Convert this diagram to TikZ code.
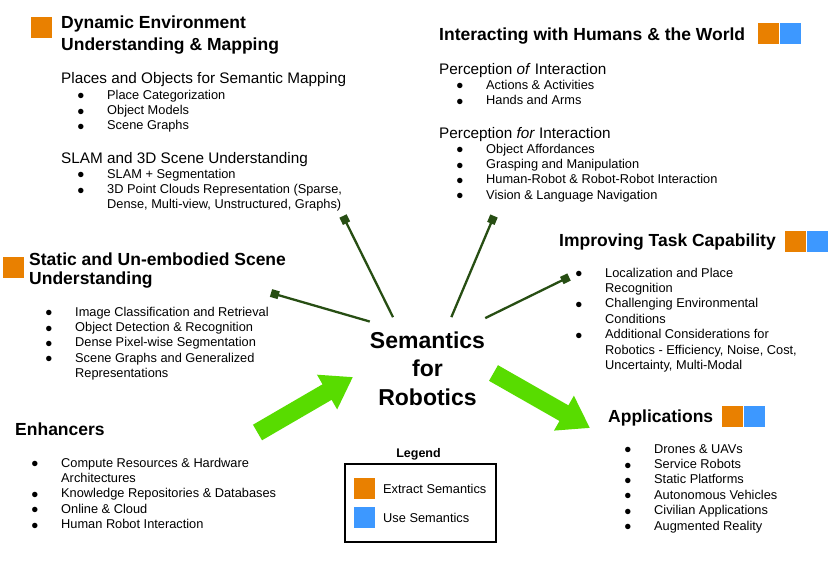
\documentclass[tikz,border=0pt]{standalone}
\usepackage{fontspec}
\setmainfont{Liberation Sans}
\usepackage{tikz}
\usetikzlibrary{arrows.meta}
\definecolor{extractcolor}{RGB}{233,128,0}
\definecolor{usecolor}{RGB}{61,152,255}
\definecolor{arrowgreen}{RGB}{88,220,0}
\definecolor{stubgreen}{RGB}{39,78,19}
\newcommand{\bul}{\makebox[30pt][l]{\raisebox{-0.6pt}{\fontsize{12.5}{10}\selectfont ●}}}
\newcommand{\cnt}{\hspace*{30pt}}

\tikzset{
  title/.style={font=\bfseries\fontsize{17.5}{22}\selectfont, anchor=base west, inner sep=0pt, align=left},
  subhead/.style={font=\fontsize{15.3}{18}\selectfont, anchor=base west, inner sep=0pt},
  items/.style={font=\fontsize{12.8}{15.4}\selectfont, anchor=base west, inner sep=0pt, align=left},
  swatch/.style={minimum size=21pt, inner sep=0pt, anchor=north west},
  extractsq/.style={swatch, fill=extractcolor},
  usesq/.style={swatch, fill=usecolor},
  stub/.style={draw=stubgreen, line width=2.3pt, -{Square[length=8pt,width=8pt]}},
  bigarrow/.style={draw=arrowgreen, line width=18pt, -{Triangle[length=30pt,width=38pt]}},
}

\begin{document}
\begin{tikzpicture}[x=1pt, y=-1pt]
    \useasboundingbox (0,0) rectangle (830,565);

    % centre (multi-line nodes sit on the baseline of their last line)
    \node[font=\bfseries\fontsize{23}{28.5}\selectfont, align=center, anchor=base, inner xsep=0pt, inner ysep=14pt] (sem) at (427.5,405) {Semantics\\for\\Robotics};

    % dynamic environment
    \node[extractsq] (dynSq) at (31,17) {};
    \node[title] (dynTitle) at (61,50) {Dynamic Environment\\Understanding \& Mapping};
    \node[subhead] (dynPlaces) at (61,83) {Places and Objects for Semantic Mapping};
    \node[items] (dynPlacesList) at (77,129.8) {\bul Place Categorization\\\bul Object Models\\\bul Scene Graphs};
    \node[subhead] (dynSlam) at (61,163) {SLAM and 3D Scene Understanding};
    \node[items] (dynSlamList) at (77,208.8) {\bul SLAM + Segmentation\\\bul 3D Point Clouds Representation (Sparse,\\\cnt Dense, Multi-view, Unstructured, Graphs)};

    % interacting
    \node[title] (intTitle) at (439,40) {Interacting with Humans \& the World};
    \node[extractsq] (intSqA) at (758,23) {};
    \node[usesq] (intSqB) at (780,23) {};
    \node[subhead] (intOf) at (439,74) {Perception \textit{of} Interaction};
    \node[items] (intOfList) at (456,104.4) {\bul Actions \& Activities\\\bul Hands and Arms};
    \node[subhead] (intFor) at (439,138) {Perception \textit{for} Interaction};
    \node[items] (intForList) at (456,199.2) {\bul Object Affordances\\\bul Grasping and Manipulation\\\bul Human-Robot \& Robot-Robot Interaction\\\bul Vision \& Language Navigation};

    % static
    \node[extractsq] (staSq) at (3,257) {};
    \node[title, font=\bfseries\fontsize{17.5}{19}\selectfont] (staTitle) at (29,284) {Static and Un-embodied Scene\\Understanding};
    \node[items] (staList) at (45,377.6) {\bul Image Classification and Retrieval\\\bul Object Detection \& Recognition\\\bul Dense Pixel-wise Segmentation\\\bul Scene Graphs and Generalized\\\cnt Representations};

    % improving
    \node[title] (impTitle) at (559,246) {Improving Task Capability};
    \node[extractsq] (impSqA) at (785,231) {};
    \node[usesq] (impSqB) at (807,231) {};
    \node[items] (impList) at (575,369.4) {\bul Localization and Place\\\cnt Recognition\\\bul Challenging Environmental\\\cnt Conditions\\\bul Additional Considerations for\\\cnt Robotics - Efficiency, Noise, Cost,\\\cnt Uncertainty, Multi-Modal};

    % applications
    \node[title] (appTitle) at (608,422) {Applications};
    \node[extractsq] (appSqA) at (722,406) {};
    \node[usesq] (appSqB) at (744,406) {};
    \node[items] (appList) at (624,530) {\bul Drones \& UAVs\\\bul Service Robots\\\bul Static Platforms\\\bul Autonomous Vehicles\\\bul Civilian Applications\\\bul Augmented Reality};

    % enhancers
    \node[title] (enhTitle) at (15,435) {Enhancers};
    \node[items] (enhList) at (31,528.6) {\bul Compute Resources \& Hardware\\\cnt Architectures\\\bul Knowledge Repositories \& Databases\\\bul Online \& Cloud\\\bul Human Robot Interaction};

    % legend
    \node[font=\bfseries\fontsize{12.5}{15}\selectfont, anchor=base, inner sep=0pt] (legTitle) at (418.5,457) {Legend};
    \draw[line width=2pt] (345,464) rectangle (496,542);
    \node[extractsq] (legSqA) at (354,478) {};
    \node[items] (legExtract) at (383,493) {Extract Semantics};
    \node[usesq] (legSqB) at (354,507) {};
    \node[items] (legUse) at (383,522) {Use Semantics};

    % connectors
    \coordinate (dynEnd) at (343,216);
    \coordinate (intEnd) at (494,216);
    \coordinate (staEnd) at (271,293);
    \coordinate (impEnd) at (569,277);
    \draw[stub] (sem.124) -- (dynEnd);
    \draw[stub] (sem.65) -- (intEnd);
    \draw[stub] (sem.141.6) -- (staEnd);
    \draw[stub] (sem.41.2) -- (impEnd);

    \coordinate (enhFoot) at (257.5,432.5);
    \coordinate (semIn) at (353,377);
    \coordinate (semOut) at (493.5,373);
    \coordinate (appHead) at (590,428);
    \draw[bigarrow] (enhFoot) -- (semIn);
    \draw[bigarrow] (semOut) -- (appHead);
\end{tikzpicture}
\end{document}
